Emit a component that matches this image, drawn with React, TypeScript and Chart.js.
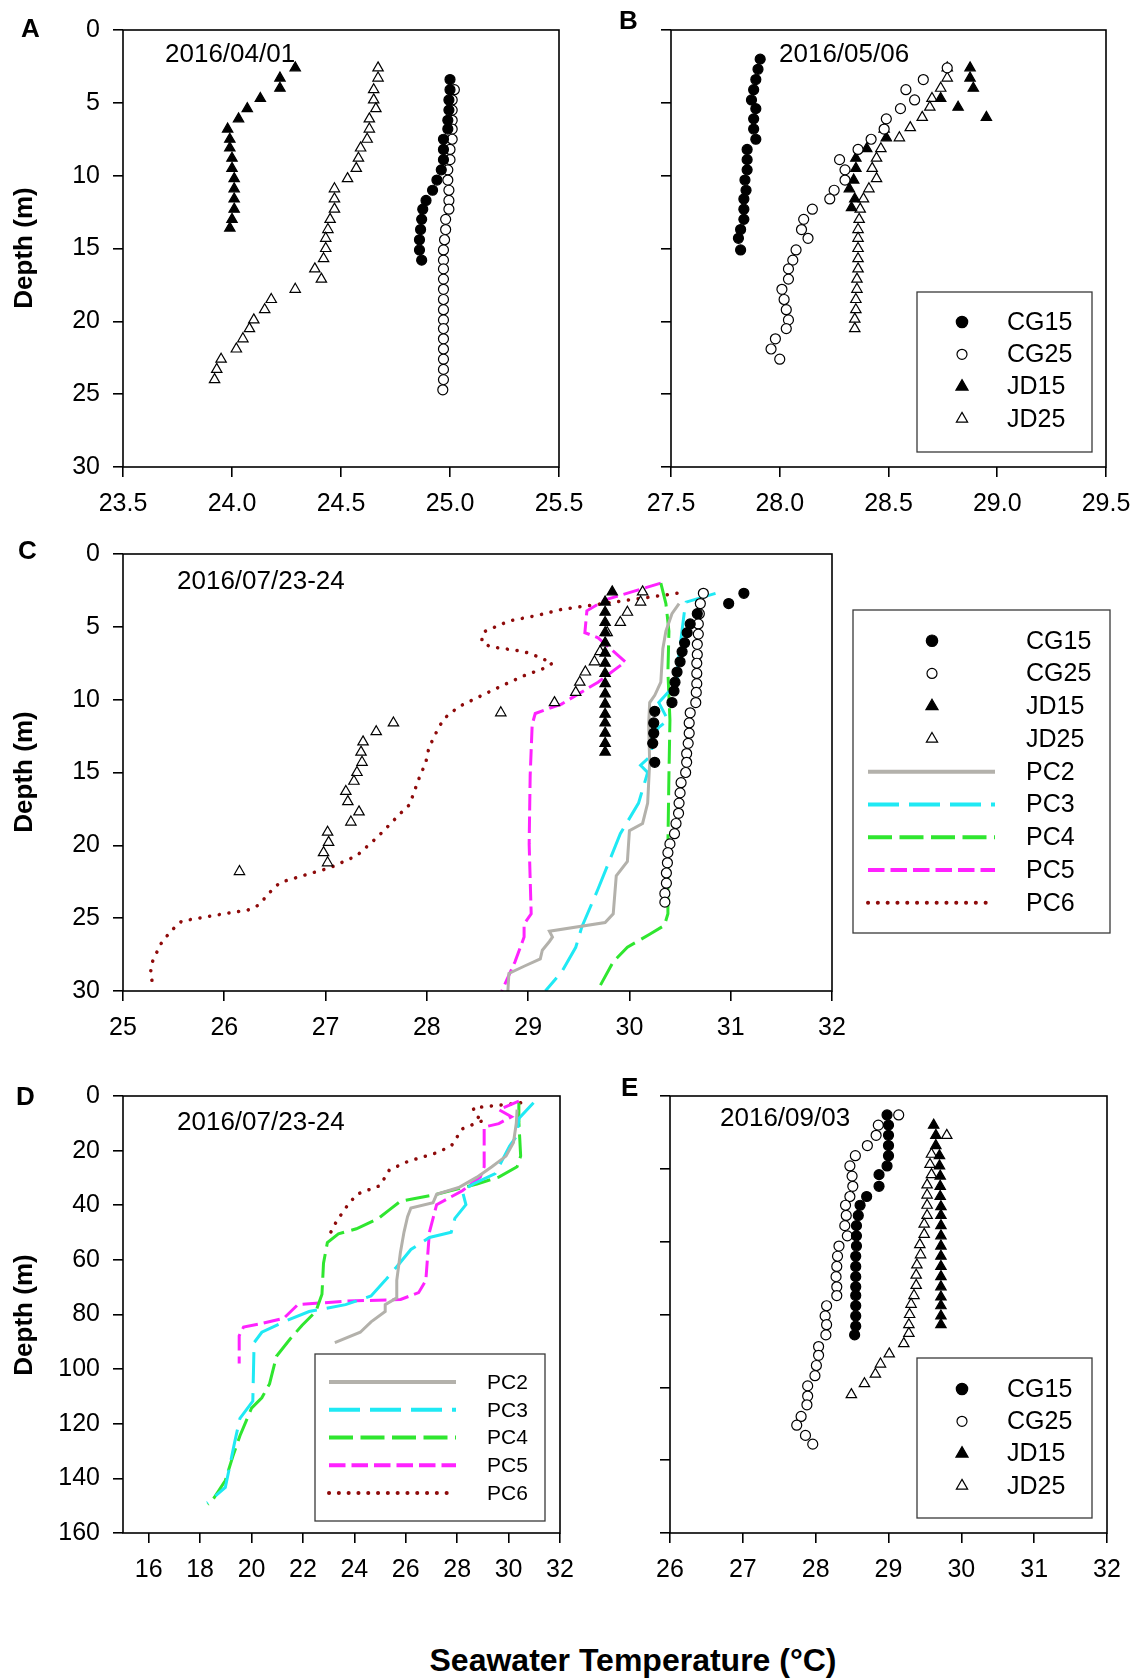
import React, { useEffect, useRef } from 'react';
import { Chart, registerables } from 'chart.js';
Chart.register(...registerables);

const FONT = '"Liberation Sans", Arial, Helvetica, sans-serif';

// ---------------- Panel A (2016/04/01) ----------------
const A_CG15_T = [25.0, 25.0, 24.995, 24.995, 24.99, 24.99, 24.97, 24.97, 24.97, 24.96, 24.94, 24.92, 24.89, 24.875, 24.87, 24.865, 24.86, 24.86, 24.87];
const A_CG15_D = [3.4, 4.1, 4.8, 5.5, 6.2, 6.8, 7.5, 8.2, 8.9, 9.6, 10.3, 11.0, 11.7, 12.3, 13.0, 13.7, 14.4, 15.1, 15.8];
const A_CG25_T = [25.02, 25.01, 25.01, 25.01, 25.01, 25.01, 25.0, 25.0, 24.99, 24.99, 24.995, 24.995, 24.995, 24.98, 24.98, 24.975, 24.97, 24.97, 24.97, 24.97, 24.97, 24.97, 24.97, 24.97, 24.97, 24.97, 24.97, 24.97, 24.97, 24.97, 24.967];
const A_CG25_D = [4.1, 4.8, 5.5, 6.2, 6.8, 7.5, 8.2, 8.9, 9.6, 10.3, 11.0, 11.7, 12.3, 13.0, 13.7, 14.4, 15.1, 15.8, 16.4, 17.1, 17.8, 18.5, 19.2, 19.9, 20.5, 21.2, 21.9, 22.6, 23.3, 24.0, 24.7];
const A_JD15_T = [24.29, 24.22, 24.22, 24.13, 24.07, 24.03, 23.98, 23.99, 23.99, 24.0, 24.0, 24.01, 24.01, 24.01, 24.01, 24.0, 23.99];
const A_JD15_D = [2.6, 3.3, 4.0, 4.7, 5.4, 6.1, 6.8, 7.5, 8.1, 8.8, 9.5, 10.2, 10.9, 11.6, 12.3, 13.0, 13.6];
const A_JD25_T = [24.67, 24.67, 24.65, 24.65, 24.66, 24.63, 24.63, 24.62, 24.59, 24.58, 24.57, 24.53, 24.47, 24.47, 24.47, 24.45, 24.44, 24.43, 24.43, 24.42, 24.38, 24.41, 24.29, 24.18, 24.15, 24.1, 24.08, 24.05, 24.02, 23.95, 23.93, 23.92];
const A_JD25_D = [2.6, 3.3, 4.1, 4.8, 5.4, 6.1, 6.8, 7.5, 8.1, 8.8, 9.5, 10.2, 10.9, 11.6, 12.3, 13.0, 13.7, 14.3, 15.0, 15.7, 16.4, 17.1, 17.8, 18.5, 19.2, 19.9, 20.5, 21.2, 21.9, 22.6, 23.3, 24.0];
const A_X_TICKS = [23.5, 24.0, 24.5, 25.0, 25.5];

// ---------------- Panel B (2016/05/06) ----------------
const B_CG15_T = [27.91, 27.9, 27.89, 27.88, 27.87, 27.89, 27.88, 27.88, 27.89, 27.85, 27.85, 27.85, 27.84, 27.845, 27.835, 27.835, 27.835, 27.82, 27.81, 27.82];
const B_CG15_D = [2.0, 2.7, 3.4, 4.1, 4.8, 5.4, 6.1, 6.8, 7.5, 8.2, 8.9, 9.6, 10.3, 11.0, 11.6, 12.3, 13.0, 13.7, 14.3, 15.1];
const B_CG25_T = [28.77, 28.66, 28.58, 28.62, 28.555, 28.49, 28.48, 28.42, 28.36, 28.275, 28.3, 28.3, 28.25, 28.23, 28.15, 28.11, 28.1, 28.13, 28.075, 28.06, 28.04, 28.04, 28.01, 28.02, 28.03, 28.04, 28.03, 27.98, 27.96, 28.0];
const B_CG25_D = [2.6, 3.4, 4.1, 4.8, 5.4, 6.1, 6.8, 7.5, 8.2, 8.9, 9.6, 10.3, 11.0, 11.6, 12.3, 13.0, 13.7, 14.3, 15.1, 15.8, 16.4, 17.1, 17.8, 18.5, 19.2, 19.9, 20.5, 21.2, 21.9, 22.6];
const B_JD15_T = [28.875, 28.875, 28.89, 28.74, 28.82, 28.95, 28.48, 28.49, 28.4, 28.35, 28.35, 28.34, 28.32, 28.345, 28.33];
const B_JD15_D = [2.6, 3.3, 4.0, 4.7, 5.3, 6.0, 6.8, 7.4, 8.15, 8.8, 9.5, 10.3, 10.9, 11.6, 12.2];
const B_JD25_T = [28.77, 28.77, 28.74, 28.7, 28.69, 28.655, 28.6, 28.55, 28.465, 28.445, 28.425, 28.445, 28.41, 28.385, 28.37, 28.365, 28.36, 28.36, 28.36, 28.36, 28.36, 28.355, 28.355, 28.35, 28.35, 28.345, 28.345];
const B_JD25_D = [2.6, 3.3, 4.0, 4.7, 5.3, 6.0, 6.7, 7.4, 8.15, 8.8, 9.5, 10.2, 10.9, 11.6, 12.3, 13.0, 13.7, 14.3, 15.0, 15.7, 16.4, 17.1, 17.8, 18.5, 19.2, 19.85, 20.5];
const B_X_TICKS = [27.5, 28.0, 28.5, 29.0, 29.5];

// ---------------- Panel C (2016/07/23-24, 0-30 m) ----------------
const C_CG15_T = [31.13, 30.98, 30.67, 30.6, 30.57, 30.545, 30.52, 30.5, 30.47, 30.45, 30.44, 30.42, 30.25, 30.24, 30.24, 30.23, 30.25];
const C_CG15_D = [2.7, 3.4, 4.1, 4.8, 5.4, 6.1, 6.7, 7.4, 8.1, 8.8, 9.4, 10.2, 10.8, 11.6, 12.3, 13.0, 14.3];
const C_CG25_T = [30.73, 30.7, 30.69, 30.68, 30.68, 30.67, 30.67, 30.665, 30.665, 30.665, 30.66, 30.655, 30.6, 30.59, 30.59, 30.58, 30.565, 30.565, 30.555, 30.51, 30.5, 30.49, 30.485, 30.46, 30.445, 30.4, 30.38, 30.375, 30.365, 30.365, 30.35, 30.35];
const C_CG25_D = [2.7, 3.4, 4.1, 4.8, 5.5, 6.2, 6.9, 7.5, 8.2, 8.9, 9.5, 10.2, 10.9, 11.6, 12.3, 13.0, 13.7, 14.3, 15.0, 15.7, 16.4, 17.1, 17.8, 18.5, 19.2, 19.9, 20.5, 21.2, 21.9, 22.6, 23.3, 23.9];
const C_JD15_T = [29.83, 29.76, 29.76, 29.76, 29.76, 29.76, 29.76, 29.76, 29.76, 29.76, 29.76, 29.76, 29.76, 29.76, 29.76, 29.76, 29.76];
const C_JD15_D = [2.6, 3.3, 4.0, 4.7, 5.4, 6.1, 6.8, 7.5, 8.2, 8.9, 9.6, 10.3, 11.0, 11.6, 12.3, 13.0, 13.6];
const C_JD25_T = [30.13, 30.11, 29.98, 29.91, 29.78, 29.71, 29.655, 29.565, 29.51, 29.47, 29.26, 28.73, 27.67, 27.5, 27.37, 27.35, 27.36, 27.31, 27.28, 27.2, 27.22, 27.33, 27.25, 27.02, 27.03, 26.98, 27.02, 26.15];
const C_JD25_D = [2.6, 3.3, 4.0, 4.7, 5.4, 6.7, 7.4, 8.1, 8.8, 9.5, 10.2, 10.9, 11.6, 12.2, 12.9, 13.6, 14.3, 15.0, 15.6, 16.3, 17.0, 17.7, 18.4, 19.1, 19.8, 20.5, 21.2, 21.8];
const C_PC2_T = [30.49, 30.42, 30.36, 30.33, 30.31, 30.25, 30.2, 30.19, 30.2, 30.18, 30.13, 30.0, 29.98, 29.87, 29.84, 29.76, 29.21, 29.24, 29.21, 29.14, 29.12, 28.96, 28.81, 28.8];
const C_PC2_D = [3.4, 4.1, 5.3, 6.5, 8.8, 9.7, 10.2, 11.7, 14.3, 17.1, 18.5, 19.0, 21.1, 22.1, 24.7, 25.3, 25.9, 26.3, 26.6, 27.2, 27.8, 28.3, 28.8, 30.0];
const C_PC3_T = [30.85, 30.56, 30.54, 30.51, 30.48, 30.47, 30.38, 30.29, 30.38, 30.29, 30.22, 30.22, 30.11, 30.18, 30.09, 29.91, 29.8, 29.69, 29.53, 29.47, 29.33, 29.17];
const C_PC3_D = [2.7, 3.3, 4.1, 5.8, 7.4, 8.8, 9.5, 10.2, 11.4, 11.9, 12.6, 13.8, 14.5, 15.0, 17.1, 19.2, 21.1, 23.0, 25.6, 27.0, 28.7, 30.0];
const C_PC4_T = [30.31, 30.36, 30.39, 30.38, 30.4, 30.39, 30.38, 30.38, 30.345, 30.2, 29.98, 29.84, 29.69];
const C_PC4_D = [2.0, 3.4, 5.3, 8.1, 11.4, 15.2, 19.9, 24.7, 25.5, 26.1, 27.0, 28.0, 29.9];
const C_PC5_T = [30.31, 29.76, 29.58, 29.56, 29.69, 29.96, 29.69, 29.33, 29.07, 29.04, 29.02, 29.01, 29.03, 28.96, 28.96, 28.87, 28.74];
const C_PC5_D = [2.0, 3.15, 3.9, 5.4, 5.75, 7.4, 8.8, 10.3, 10.95, 11.7, 15.2, 19.9, 24.7, 25.4, 26.3, 28.0, 30.0];
const C_PC6_T = [30.47, 29.33, 29.1, 28.81, 28.56, 28.54, 28.62, 28.96, 29.1, 29.24, 29.14, 28.96, 28.74, 28.56, 28.31, 28.17, 28.11, 28.02, 27.99, 27.92, 27.83, 27.74, 27.56, 27.47, 27.31, 27.04, 26.84, 26.55, 26.46, 26.34, 26.23, 26.08, 25.83, 25.58, 25.47, 25.37, 25.29, 25.27, 25.29];
const C_PC6_D = [2.7, 3.8, 4.2, 4.6, 5.35, 6.0, 6.35, 6.7, 7.05, 7.5, 7.9, 8.35, 9.05, 9.65, 10.5, 11.3, 12.0, 13.3, 14.3, 15.45, 17.2, 17.8, 19.1, 19.7, 20.7, 21.55, 21.95, 22.55, 23.15, 24.1, 24.45, 24.6, 24.9, 25.2, 25.9, 26.8, 28.0, 28.8, 29.4];
const C_X_TICKS = [25, 26, 27, 28, 29, 30, 31, 32];

// ---------------- Panel D (2016/07/23-24, 0-160 m) ----------------
const D_PC2_T = [30.33, 30.3, 30.19, 29.9, 29.35, 28.77, 28.06, 27.2, 27.06, 26.2, 26.07, 25.93, 25.79, 25.65, 25.65, 25.2, 25.2, 24.65, 24.23, 23.24];
const D_PC2_D = [5, 10, 17, 22, 25.9, 29.7, 33.5, 36, 39.1, 41, 44.2, 49.9, 57.4, 67.5, 73.9, 76.4, 78.9, 82.7, 86.5, 90.3];
const D_PC3_T = [30.97, 30.4, 30.33, 30.04, 29.83, 29.48, 28.62, 28.2, 28.34, 27.91, 27.77, 26.92, 26.2, 25.65, 25.2, 24.65, 23.66, 22.24, 21.25, 20.4, 20.1, 20.05, 19.55, 19.34, 19.12, 18.98, 18.27];
const D_PC3_D = [2.5, 8.2, 14.5, 18.3, 22.1, 28.4, 32.2, 34.7, 39.8, 44.8, 49.9, 51.8, 56.2, 62.5, 67.5, 73.2, 76.4, 78.9, 82.7, 86.5, 90.3, 111.7, 118, 126.9, 137, 143.3, 149];
const D_PC4_T = [30.4, 30.4, 30.47, 30.33, 29.62, 28.77, 27.2, 25.8, 25.36, 24.94, 24.08, 23.38, 22.95, 22.8, 22.74, 22.5, 21.96, 21.5, 20.97, 20.7, 20.4, 20.0, 19.55, 19.27, 18.98, 18.55, 18.3];
const D_PC4_D = [2.5, 9.5, 22, 25.9, 29.7, 32.2, 36, 38.5, 41.7, 44.8, 48.6, 50.5, 53.7, 61.2, 72.6, 78.9, 84, 89, 95.3, 105.4, 110.5, 114.3, 124.4, 132, 140.8, 147, 149.6];
const D_PC5_T = [30.4, 29.62, 30.11, 29.62, 29.05, 29.05, 28.9, 28.2, 27.2, 26.92, 26.78, 26.5, 25.8, 23.66, 21.8, 21.25, 20.4, 19.69, 19.52, 19.52];
const D_PC5_D = [1.9, 5, 7.6, 10.1, 11.4, 25.9, 29.7, 34.7, 39.8, 49.9, 67.5, 72, 74.5, 75.1, 76.4, 81.4, 83.3, 84.6, 87.8, 97.9];
const D_PC6_T = [30.47, 28.62, 28.77, 29.05, 28.2, 27.77, 27.2, 26.07, 25.36, 25.0, 24.09, 23.66, 23.3, 23.02];
const D_PC6_D = [2.5, 4.4, 7.6, 8.8, 12, 18.3, 20.8, 24, 27.1, 32.8, 36, 41, 46, 51];
const D_X_TICKS = [16, 18, 20, 22, 24, 26, 28, 30, 32];
const D_Y_TICKS = [0, 20, 40, 60, 80, 100, 120, 140, 160];

// ---------------- Panel E (2016/09/03) ----------------
const E_CG15_T = [28.98, 29.0, 29.0, 29.0, 29.0, 28.98, 28.87, 28.87, 28.7, 28.61, 28.585, 28.56, 28.56, 28.56, 28.55, 28.55, 28.55, 28.55, 28.55, 28.55, 28.55, 28.55, 28.535];
const E_CG15_D = [1.3, 2.0, 2.7, 3.4, 4.1, 4.8, 5.4, 6.2, 6.9, 7.5, 8.2, 8.9, 9.6, 10.3, 11.0, 11.7, 12.4, 13.1, 13.7, 14.4, 15.1, 15.8, 16.4];
const E_CG25_T = [29.14, 28.86, 28.83, 28.71, 28.545, 28.47, 28.5, 28.51, 28.47, 28.41, 28.42, 28.4, 28.435, 28.32, 28.3, 28.29, 28.28, 28.29, 28.29, 28.15, 28.13, 28.15, 28.14, 28.04, 28.04, 28.01, 27.99, 27.89, 27.89, 27.88, 27.8, 27.74, 27.86, 27.96];
const E_CG25_D = [1.3, 2.0, 2.7, 3.4, 4.1, 4.8, 5.5, 6.2, 6.9, 7.5, 8.2, 8.9, 9.6, 10.3, 11.0, 11.7, 12.4, 13.1, 13.7, 14.4, 15.1, 15.7, 16.4, 17.2, 17.8, 18.5, 19.2, 19.9, 20.6, 21.2, 22.0, 22.6, 23.3, 23.9];
const E_JD15_T = [29.62, 29.65, 29.65, 29.7, 29.7, 29.71, 29.71, 29.71, 29.72, 29.72, 29.72, 29.72, 29.72, 29.72, 29.72, 29.72, 29.72, 29.72, 29.72, 29.72, 29.72];
const E_JD15_D = [2.0, 2.7, 3.4, 4.1, 4.8, 5.5, 6.2, 6.9, 7.6, 8.2, 8.9, 9.6, 10.3, 11.0, 11.7, 12.4, 13.1, 13.8, 14.4, 15.1, 15.7];
const E_JD25_T = [29.8, 29.59, 29.57, 29.59, 29.53, 29.53, 29.53, 29.53, 29.49, 29.49, 29.43, 29.44, 29.39, 29.38, 29.38, 29.35, 29.31, 29.29, 29.28, 29.28, 29.21, 29.01, 28.89, 28.82, 28.67, 28.49];
const E_JD25_D = [2.7, 4.0, 4.7, 5.4, 6.1, 6.8, 7.5, 8.2, 8.8, 9.5, 10.2, 10.9, 11.6, 12.3, 13.0, 13.7, 14.3, 15.0, 15.7, 16.3, 17.0, 17.7, 18.4, 19.1, 19.75, 20.5];
const E_X_TICKS = [26, 27, 28, 29, 30, 31, 32];

const DEPTH30_TICKS = [0, 5, 10, 15, 20, 25, 30];

// ---------------- styles ----------------
const MARKER_STYLE: Record<string, { shape: string; fill: string; r: number; lr: number }> = {
  CG15: { shape: 'circle', fill: '#000000', r: 5, lr: 5.7 },
  CG25: { shape: 'circle', fill: '#ffffff', r: 5, lr: 5 },
  JD15: { shape: 'triangle', fill: '#000000', r: 6, lr: 7 },
  JD25: { shape: 'triangle', fill: '#ffffff', r: 6, lr: 6.5 },
};
const LINE_STYLE: Record<string, { color: string; dash: number[]; cap: string }> = {
  PC2: { color: '#b3b1ab', dash: [], cap: 'butt' },
  PC3: { color: '#1fe9f4', dash: [31, 10], cap: 'butt' },
  PC4: { color: '#2fe62f', dash: [24, 7.5], cap: 'butt' },
  PC5: { color: '#ff22ff', dash: [16.5, 6], cap: 'butt' },
  PC6: { color: '#8e0a0a', dash: [0.1, 9.7], cap: 'round' },
};

const zip = (t: number[], d: number[]) => t.map((x, i) => ({ x, y: d[i] }));

function markerDs(label: string, t: number[], d: number[]) {
  const s = MARKER_STYLE[label];
  return {
    label,
    data: zip(t, d),
    showLine: false,
    pointStyle: s.shape,
    pointRadius: s.r,
    pointHoverRadius: s.r,
    pointBackgroundColor: s.fill,
    pointBorderColor: '#000000',
    pointBorderWidth: 1.2,
    order: 0,
  };
}
function lineDs(label: string, t: number[], d: number[]) {
  const s = LINE_STYLE[label];
  return {
    label,
    data: zip(t, d),
    showLine: true,
    pointRadius: 0,
    pointHoverRadius: 0,
    borderColor: s.color,
    backgroundColor: s.color,
    borderWidth: label === 'PC6' ? 3.5 : 3,
    borderDash: s.dash,
    borderCapStyle: s.cap,
    tension: 0,
    fill: false,
    order: 1,
  };
}

function drawMarker(ctx: CanvasRenderingContext2D, shape: string, fill: string, r: number, x: number, y: number) {
  ctx.beginPath();
  if (shape === 'circle') {
    ctx.arc(x, y, r, 0, Math.PI * 2);
  } else {
    ctx.moveTo(x, y - r);
    ctx.lineTo(x + r * 0.866, y + r * 0.5);
    ctx.lineTo(x - r * 0.866, y + r * 0.5);
    ctx.closePath();
  }
  ctx.fillStyle = fill;
  ctx.fill();
  ctx.lineWidth = 1.2;
  ctx.strokeStyle = '#000';
  ctx.stroke();
}

const framePlugin = {
  id: 'frame',
  afterDraw(chart: any) {
    const { ctx, chartArea: a } = chart;
    ctx.save();
    ctx.strokeStyle = '#000';
    ctx.lineWidth = 1.6;
    ctx.strokeRect(a.left, a.top, a.right - a.left, a.bottom - a.top);
    ctx.restore();
  },
};

const boxLegendPlugin = {
  id: 'boxLegend',
  afterDraw(chart: any, _args: any, opts: any) {
    if (!opts || !opts.show) return;
    const { ctx } = chart;
    ctx.save();
    ctx.strokeStyle = '#3a3a3a';
    ctx.lineWidth = 1.3;
    ctx.strokeRect(opts.x, opts.y, opts.w, opts.h);
    const items = chart.data.datasets.filter((ds: any) => ds.label);
    items.forEach((ds: any, i: number) => {
      const y = opts.rowY0 + i * opts.rowStep;
      if (ds.showLine) {
        ctx.save();
        ctx.beginPath();
        ctx.strokeStyle = ds.borderColor;
        ctx.lineWidth = 4;
        ctx.setLineDash(LINE_STYLE[ds.label].dash);
        ctx.lineCap = LINE_STYLE[ds.label].cap;
        ctx.moveTo(opts.lineX0, y);
        ctx.lineTo(opts.lineX1, y);
        ctx.stroke();
        ctx.restore();
      } else {
        const s = MARKER_STYLE[ds.label];
        drawMarker(ctx, s.shape, s.fill, s.lr, opts.markX, y);
      }
      ctx.fillStyle = '#000';
      ctx.font = `${opts.fontSize}px ${FONT}`;
      ctx.textAlign = 'left';
      ctx.textBaseline = 'middle';
      ctx.fillText(ds.label, opts.textX, y + 1);
    });
    ctx.restore();
  },
};

interface PanelSpec {
  datasets: any[];
  xMin: number; xMax: number; xTicks: number[]; xDecimals: number;
  yMax: number; yTicks: number[]; yLabels: boolean;
  width: number; height: number;
  yWidth: number; xHeight: number; padTop: number; padRight: number;
  legend: any;
}

function makeConfig(p: PanelSpec): any {
  const tickFont = { family: FONT, size: 25 };
  return {
    type: 'scatter',
    data: { datasets: p.datasets },
    options: {
      responsive: false,
      animation: false,
      devicePixelRatio: 1,
      events: [],
      layout: { padding: { left: 0, top: p.padTop, right: p.padRight, bottom: 0 } },
      plugins: {
        legend: { display: false },
        tooltip: { enabled: false },
        boxLegend: p.legend || { show: false },
      },
      scales: {
        x: {
          type: 'linear',
          min: p.xMin,
          max: p.xMax,
          afterBuildTicks: (s: any) => { s.ticks = p.xTicks.map((v) => ({ value: v })); },
          afterFit: (s: any) => { s.height = p.xHeight; s.paddingLeft = 0; s.paddingRight = 0; },
          ticks: {
            callback: (v: any) => Number(v).toFixed(p.xDecimals),
            font: tickFont, color: '#000', padding: 12, maxRotation: 0, autoSkip: false,
          },
          grid: { drawOnChartArea: false, drawTicks: true, tickLength: 10, color: '#000', lineWidth: 1.6 },
          border: { display: false },
        },
        y: {
          type: 'linear',
          reverse: true,
          min: 0,
          max: p.yMax,
          afterBuildTicks: (s: any) => { s.ticks = p.yTicks.map((v) => ({ value: v })); },
          afterFit: (s: any) => { s.width = p.yWidth; s.paddingTop = 0; s.paddingBottom = 0; },
          ticks: {
            display: p.yLabels,
            callback: (v: any) => String(v),
            font: tickFont, color: '#000', padding: 13, autoSkip: false,
          },
          grid: { drawOnChartArea: false, drawTicks: true, tickLength: 10, color: '#000', lineWidth: 1.6 },
          border: { display: false },
        },
      },
    },
    plugins: [framePlugin, boxLegendPlugin],
  };
}

function ChartCanvas({ left, top, spec }: { left: number; top: number; spec: PanelSpec }) {
  const ref = useRef<HTMLCanvasElement>(null);
  useEffect(() => {
    const chart = new Chart(ref.current as HTMLCanvasElement, makeConfig(spec));
    return () => chart.destroy();
  }, []);
  return (
    <canvas
      ref={ref}
      width={spec.width}
      height={spec.height}
      style={{ position: 'absolute', left, top, width: spec.width, height: spec.height }}
    />
  );
}

const markerLegend = (x: number, y: number, rowY0: number) => ({
  show: true, x, y, w: 175, h: 160, rowY0, rowStep: 32.3, markX: x + 45, textX: x + 90, fontSize: 25,
});

const specA: PanelSpec = {
  datasets: [markerDs('CG15', A_CG15_T, A_CG15_D), markerDs('CG25', A_CG25_T, A_CG25_D), markerDs('JD15', A_JD15_T, A_JD15_D), markerDs('JD25', A_JD25_T, A_JD25_D)],
  xMin: 23.5, xMax: 25.5, xTicks: A_X_TICKS, xDecimals: 1,
  yMax: 30, yTicks: DEPTH30_TICKS, yLabels: true,
  width: 600, height: 530, yWidth: 123, xHeight: 63, padTop: 30, padRight: 41, legend: null,
};
const specB: PanelSpec = {
  datasets: [markerDs('CG15', B_CG15_T, B_CG15_D), markerDs('CG25', B_CG25_T, B_CG25_D), markerDs('JD15', B_JD15_T, B_JD15_D), markerDs('JD25', B_JD25_T, B_JD25_D)],
  xMin: 27.5, xMax: 29.5, xTicks: B_X_TICKS, xDecimals: 1,
  yMax: 30, yTicks: DEPTH30_TICKS, yLabels: false,
  width: 538, height: 530, yWidth: 71, xHeight: 63, padTop: 30, padRight: 32,
  legend: markerLegend(317, 292, 322),
};
const specC: PanelSpec = {
  datasets: [
    markerDs('CG15', C_CG15_T, C_CG15_D), markerDs('CG25', C_CG25_T, C_CG25_D), markerDs('JD15', C_JD15_T, C_JD15_D), markerDs('JD25', C_JD25_T, C_JD25_D),
    lineDs('PC2', C_PC2_T, C_PC2_D), lineDs('PC3', C_PC3_T, C_PC3_D), lineDs('PC4', C_PC4_T, C_PC4_D), lineDs('PC5', C_PC5_T, C_PC5_D), lineDs('PC6', C_PC6_T, C_PC6_D),
  ],
  xMin: 25, xMax: 32, xTicks: C_X_TICKS, xDecimals: 0,
  yMax: 30, yTicks: DEPTH30_TICKS, yLabels: true,
  width: 1138, height: 540, yWidth: 123, xHeight: 79, padTop: 24, padRight: 306,
  legend: { show: true, x: 853, y: 80, w: 257, h: 323, rowY0: 110.7, rowStep: 32.75, markX: 932, textX: 1026, lineX0: 868, lineX1: 995, fontSize: 25 },
};
const specD: PanelSpec = {
  datasets: [lineDs('PC2', D_PC2_T, D_PC2_D), lineDs('PC3', D_PC3_T, D_PC3_D), lineDs('PC4', D_PC4_T, D_PC4_D), lineDs('PC5', D_PC5_T, D_PC5_D), lineDs('PC6', D_PC6_T, D_PC6_D)],
  xMin: 15, xMax: 32, xTicks: D_X_TICKS, xDecimals: 0,
  yMax: 160, yTicks: D_Y_TICKS, yLabels: true,
  width: 600, height: 540, yWidth: 123, xHeight: 77, padTop: 26, padRight: 40,
  legend: { show: true, x: 315, y: 284, w: 230, h: 167, rowY0: 312, rowStep: 27.75, markX: 0, textX: 487, lineX0: 329, lineX1: 456, fontSize: 21 },
};
const specE: PanelSpec = {
  datasets: [markerDs('CG15', E_CG15_T, E_CG15_D), markerDs('CG25', E_CG25_T, E_CG25_D), markerDs('JD15', E_JD15_T, E_JD15_D), markerDs('JD25', E_JD25_T, E_JD25_D)],
  xMin: 26, xMax: 32, xTicks: E_X_TICKS, xDecimals: 0,
  yMax: 30, yTicks: DEPTH30_TICKS, yLabels: false,
  width: 538, height: 540, yWidth: 70, xHeight: 77, padTop: 26, padRight: 31,
  legend: markerLegend(317, 288, 319),
};

const textBase: React.CSSProperties = { position: 'absolute', lineHeight: 1, whiteSpace: 'nowrap', fontFamily: FONT, color: '#000', margin: 0 };

function Letter({ ch, left, top }: { ch: string; left: number; top: number }) {
  return <div style={{ ...textBase, left, top, fontSize: 26, fontWeight: 'bold' }}>{ch}</div>;
}
function DateText({ text, left, top }: { text: string; left: number; top: number }) {
  return <div style={{ ...textBase, left, top, fontSize: 26 }}>{text}</div>;
}
function DepthLabel({ cx, cy }: { cx: number; cy: number }) {
  return (
    <div style={{ ...textBase, left: cx, top: cy, fontSize: 26, fontWeight: 'bold', transform: 'translate(-50%, -50%) rotate(-90deg)' }}>
      Depth (m)
    </div>
  );
}

export default function App() {
  return (
    <div style={{ position: 'absolute', left: 0, top: 0, width: 1138, height: 1679, background: '#fff', overflow: 'hidden' }}>
      <ChartCanvas left={0} top={0} spec={specA} />
      <ChartCanvas left={600} top={0} spec={specB} />
      <ChartCanvas left={0} top={530} spec={specC} />
      <ChartCanvas left={0} top={1070} spec={specD} />
      <ChartCanvas left={600} top={1070} spec={specE} />

      <Letter ch="A" left={21} top={15} />
      <Letter ch="B" left={619} top={7} />
      <Letter ch="C" left={18} top={537} />
      <Letter ch="D" left={16} top={1083} />
      <Letter ch="E" left={621} top={1074} />

      <DateText text="2016/04/01" left={165} top={40} />
      <DateText text="2016/05/06" left={779} top={40} />
      <DateText text="2016/07/23-24" left={177} top={567} />
      <DateText text="2016/07/23-24" left={177} top={1108} />
      <DateText text="2016/09/03" left={720} top={1104} />

      <DepthLabel cx={23} cy={248} />
      <DepthLabel cx={23} cy={772} />
      <DepthLabel cx={23} cy={1315} />

      <div style={{ ...textBase, left: 633, top: 1660, fontSize: 32, fontWeight: 'bold', transform: 'translate(-50%, -50%)' }}>
        Seawater Temperature (°C)
      </div>
    </div>
  );
}
